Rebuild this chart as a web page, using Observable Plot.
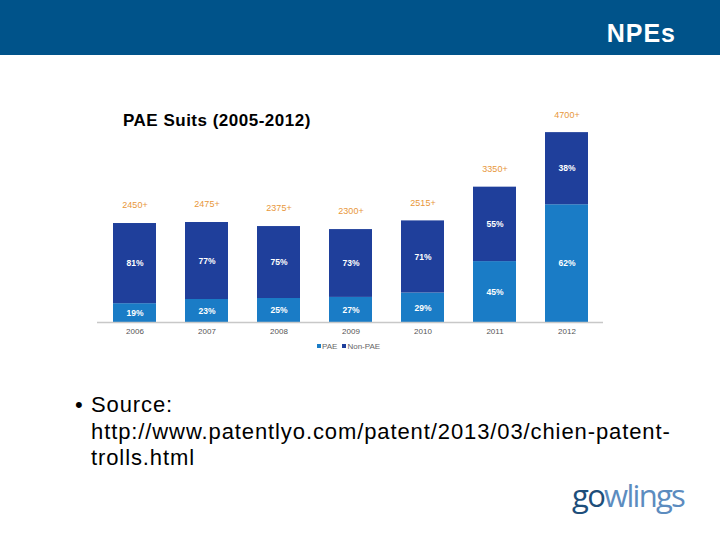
<!DOCTYPE html>
<html>
<head>
<meta charset="utf-8">
<script src="https://cdn.jsdelivr.net/npm/d3@7"></script>
<script src="https://cdn.jsdelivr.net/npm/@observablehq/plot@0.6"></script>
<style>
  html, body { margin: 0; padding: 0; background: #fff; }
  #page { position: relative; width: 720px; height: 540px; overflow: hidden; font-family: "Liberation Sans", Arial, sans-serif; }
  #header { position: absolute; left: 0; top: 0; width: 720px; height: 55px; background: #00538a; }
  #header span { position: absolute; right: 44px; top: 19px; color: #fff; font-weight: bold; font-size: 25px; letter-spacing: 1px; }
  #title { position: absolute; left: 123px; top: 111px; font-weight: bold; font-size: 17px; letter-spacing: 0.5px; color: #000; }
  #chart { position: absolute; left: 0; top: 0; }
  #legend { position: absolute; left: 317px; top: 342px; font-size: 8px; color: #666; }
  #legend i { display: inline-block; width: 4px; height: 4px; margin-right: 1px; vertical-align: 1px; }
  #bullet { position: absolute; left: 75px; top: 392px; font-size: 22px; line-height: 26.5px; color: #000; letter-spacing: 0.9px; }
  #bullet .b { position: absolute; left: 0; top: 0; }
  #bullet .t { margin-left: 16px; }
  #logo { position: absolute; left: 572px; top: 474px; font-family: "Open Sans", sans-serif; font-size: 31px; letter-spacing: -1.7px; }
</style>
</head>
<body>
<div id="page">
  <div id="chart"></div>
  <div id="header"><span>NPEs</span></div>
  <div id="title">PAE Suits (2005-2012)</div>
  <div id="legend"></div>
  <div id="bullet"><span class="b">•</span><div class="t">Source:<br>http://www.patentlyo.com/patent/2013/03/chien-patent-<br>trolls.html</div></div>
  <div id="logo"><span style="color:#1d4e7a">go</span><span style="color:#5c8cbf">wlings</span></div>
</div>
<script>
const years = ["2006", "2007", "2008", "2009", "2010", "2011", "2012"];
const totals = [2450, 2475, 2375, 2300, 2515, 3350, 4700];
const totalLabels = ["2450+", "2475+", "2375+", "2300+", "2515+", "3350+", "4700+"];
const paePct = [19, 23, 25, 27, 29, 45, 62];
const nonPaePct = [81, 77, 75, 73, 71, 55, 38];
const series = ["PAE", "Non-PAE"];
const colors = ["#1a7cc6", "#1f3f9b"];

const rows = [];
years.forEach((yr, i) => {
  rows.push({year: yr, type: "PAE", pct: paePct[i], value: totals[i] * paePct[i] / 100});
  rows.push({year: yr, type: "Non-PAE", pct: nonPaePct[i], value: totals[i] * nonPaePct[i] / 100});
});
const totRows = years.map((yr, i) => ({year: yr, total: totals[i], label: totalLabels[i]}));

const chart = Plot.plot({
  width: 720,
  height: 540,
  marginLeft: 97,
  marginRight: 117,
  marginTop: 120,
  marginBottom: 218,
  style: {background: "transparent", fontFamily: "Liberation Sans, Arial, sans-serif"},
  x: {domain: years, paddingInner: 0.405, paddingOuter: 0.2025, label: null, tickSize: 0, tickPadding: 6},
  y: {domain: [0, 5000], axis: null},
  color: {domain: series, range: colors},
  marks: [
    Plot.barY(rows, {x: "year", y: "value", fill: "type", order: series}),
    Plot.text(rows, Plot.stackY({x: "year", y: "value", z: "type", order: series, text: d => d.pct + "%", fill: "white", fontWeight: "bold", fontSize: 8.5})),
    Plot.text(totRows, {x: "year", y: "total", text: "label", dy: -18, fill: "#e8973a", fontSize: 9}),
    Plot.ruleY([0], {stroke: "#c8c8c8", strokeWidth: 1.5}),
    Plot.axisX({tickSize: 0, tickPadding: 6, fontSize: 8, color: "#555", label: null})
  ]
});
document.getElementById("chart").appendChild(chart);

const legend = document.getElementById("legend");
series.forEach((s, i) => {
  const span = document.createElement("span");
  span.style.marginRight = "5px";
  span.innerHTML = `<i style="background:${colors[i]}"></i>${s}`;
  legend.appendChild(span);
});
</script>
</body>
</html>
